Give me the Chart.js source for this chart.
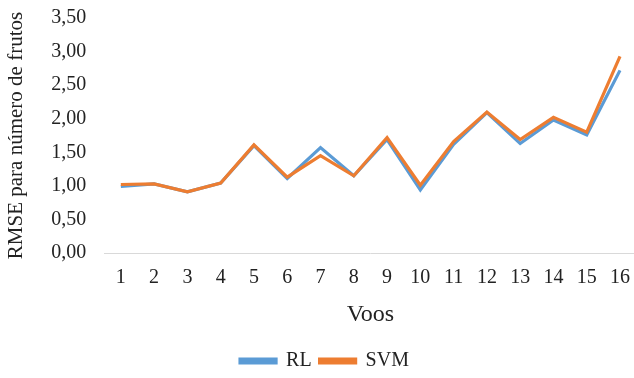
<!DOCTYPE html>
<html>
<head>
<meta charset="utf-8">
<script src="https://cdn.jsdelivr.net/npm/chart.js@4.4.1/dist/chart.umd.min.js"></script>
<style>
  html, body { margin: 0; padding: 0; background: #fff; overflow: hidden; }
  #wrap { position: relative; width: 645px; height: 381px; }
</style>
</head>
<body>
<div id="wrap"><canvas id="c"></canvas></div>
<script>
// Flights (voos) and RMSE for number of fruits per model
const voos = ['1','2','3','4','5','6','7','8','9','10','11','12','13','14','15','16'];
const rmseRL  = [0.99, 1.03, 0.91, 1.04, 1.60, 1.11, 1.57, 1.15, 1.69, 0.94, 1.62, 2.09, 1.63, 1.98, 1.76, 2.72];
const rmseSVM = [1.02, 1.03, 0.91, 1.04, 1.61, 1.13, 1.45, 1.15, 1.72, 1.01, 1.66, 2.10, 1.69, 2.02, 1.80, 2.93];
const yTicks = [0, 0.5, 1, 1.5, 2, 2.5, 3, 3.5];

const serif = '"Liberation Serif", "Times New Roman", serif';

new Chart(document.getElementById('c'), {
  type: 'line',
  data: {
    labels: voos,
    datasets: [
      { label: 'RL', data: rmseRL, borderColor: '#5B9BD5', backgroundColor: '#5B9BD5',
        borderWidth: 3.2, pointRadius: 0, tension: 0, order: 1 },
      { label: 'SVM', data: rmseSVM, borderColor: '#ED7D31', backgroundColor: '#ED7D31',
        borderWidth: 3.2, pointRadius: 0, tension: 0, order: 0 }
    ]
  },
  options: {
    responsive: true,
    maintainAspectRatio: false,
    animation: false,
    layout: { padding: { left: 4, right: 0, top: 0, bottom: 0 } },
    plugins: {
      tooltip: { enabled: false },
      legend: {
        position: 'bottom',
        labels: {
          font: { family: serif, size: 20 },
          color: '#222',
          boxWidth: 36,
          boxHeight: 4,
          padding: 8,
          sort: (a, b) => a.datasetIndex - b.datasetIndex
        }
      }
    },
    scales: {
      x: {
        offset: true,
        grid: { display: false, drawTicks: false },
        border: { display: true, color: '#d9d9d9', width: 1 },
        ticks: { font: { family: serif, size: 20, lineHeight: 1 }, color: '#222', padding: 15, maxRotation: 0, autoSkip: false },
        title: { display: true, text: 'Voos', font: { family: serif, size: 24, lineHeight: 1 }, color: '#222', padding: { top: 0, bottom: 16 } }
      },
      y: {
        min: 0,
        max: 3.5,
        afterBuildTicks: (axis) => { axis.ticks = yTicks.map(v => ({ value: v })); },
        afterFit: (axis) => { axis.paddingTop = 18; },
        grid: { display: false, drawTicks: false },
        border: { display: false },
        ticks: {
          font: { family: serif, size: 20 },
          color: '#222',
          padding: 18,
          callback: (v) => Number(v).toFixed(2).replace('.', ',')
        },
        title: { display: true, text: 'RMSE para número de frutos', font: { family: serif, size: 21 }, color: '#222', padding: { top: 0, bottom: 4 } }
      }
    }
  }
});
</script>
</body>
</html>
